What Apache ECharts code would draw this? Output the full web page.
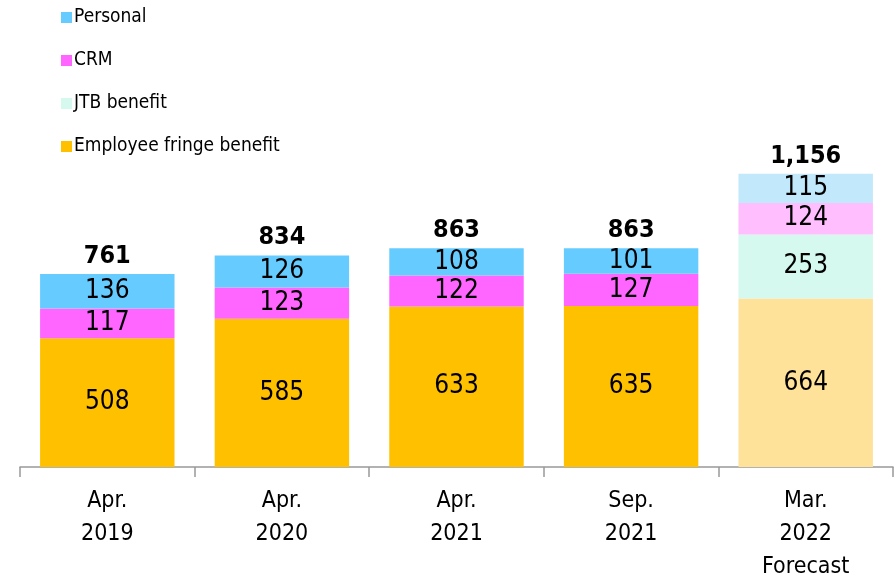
<!DOCTYPE html>
<html>
<head>
<meta charset="utf-8">
<script src="https://cdn.jsdelivr.net/npm/echarts@6/dist/echarts.min.js"></script>
<style>
  html, body { margin: 0; padding: 0; background: #fff; }
  #main { width: 895px; height: 576px; }
</style>
</head>
<body>
<div id="main"></div>
<script>
// 数据
var categories = ['Apr.\n2019', 'Apr.\n2020', 'Apr.\n2021', 'Sep.\n2021', 'Mar.\n2022\nForecast'];
var employee = [508, 585, 633, 635, 664];
var jtb = [0, 0, 0, 0, 253];
var crm = [117, 123, 122, 127, 124];
var personal = [136, 126, 108, 101, 115];
var totals = [761, 834, 863, 863, 1156];

var font = '"DejaVu Sans Condensed", sans-serif';

// 最后一根柱子（预测）用浅色
function makeData(values, lightColor) {
    return values.map(function (v, i) {
        var item = { value: v === 0 ? null : v };
        if (i === values.length - 1) {
            item.itemStyle = { color: lightColor };
        }
        return item;
    });
}

function seriesOf(name, values, color, lightColor) {
    return {
        name: name,
        type: 'bar',
        stack: 'total',
        barCategoryGap: '23%',
        itemStyle: { color: color },
        data: makeData(values, lightColor),
        label: {
            show: true,
            position: 'inside',
            color: '#000',
            fontFamily: font,
            fontSize: 26
        }
    };
}

var myChart = echarts.init(document.getElementById('main'));
var option = {
    animation: false,
    legend: {
        orient: 'vertical',
        left: 56,
        top: 3,
        itemGap: 24,
        itemWidth: 11,
        itemHeight: 11,
        icon: 'rect',
        data: ['Personal', 'CRM', 'JTB benefit', 'Employee fringe benefit'],
        textStyle: {
            fontFamily: font,
            fontSize: 19,
            color: '#000',
            padding: [0, 0, 0, -3]
        }
    },
    grid: {
        left: 20,
        right: 2,
        top: 86.6,
        bottom: 109,
        outerBoundsMode: 'none'
    },
    xAxis: {
        type: 'category',
        data: categories,
        axisLine: { lineStyle: { color: '#999', width: 1.5 } },
        axisTick: { show: true, length: 10, lineStyle: { color: '#999', width: 1.5 } },
        axisLabel: {
            margin: 18,
            fontFamily: font,
            fontSize: 23,
            lineHeight: 33,
            color: '#000'
        }
    },
    yAxis: {
        type: 'value',
        min: 0,
        max: 1500,
        show: false,
        splitLine: { show: false }
    },
    series: [
        seriesOf('Employee fringe benefit', employee, '#FFC000', '#FFE299'),
        seriesOf('JTB benefit', jtb, '#D5F8EF', '#D5F8EF'),
        seriesOf('CRM', crm, '#FF66FF', '#FFBFFF'),
        seriesOf('Personal', personal, '#66CCFF', '#C2E8FB'),
        {
            name: 'total',
            type: 'bar',
            stack: 'total',
            data: totals.map(function () { return 0; }),
            itemStyle: { color: 'transparent' },
            label: {
                show: true,
                position: 'top',
                distance: 5,
                color: '#000',
                fontFamily: font,
                fontWeight: 'bold',
                fontSize: 25,
                formatter: function (p) {
                    return totals[p.dataIndex].toLocaleString('en-US');
                }
            }
        }
    ]
};
myChart.setOption(option);
</script>
</body>
</html>
